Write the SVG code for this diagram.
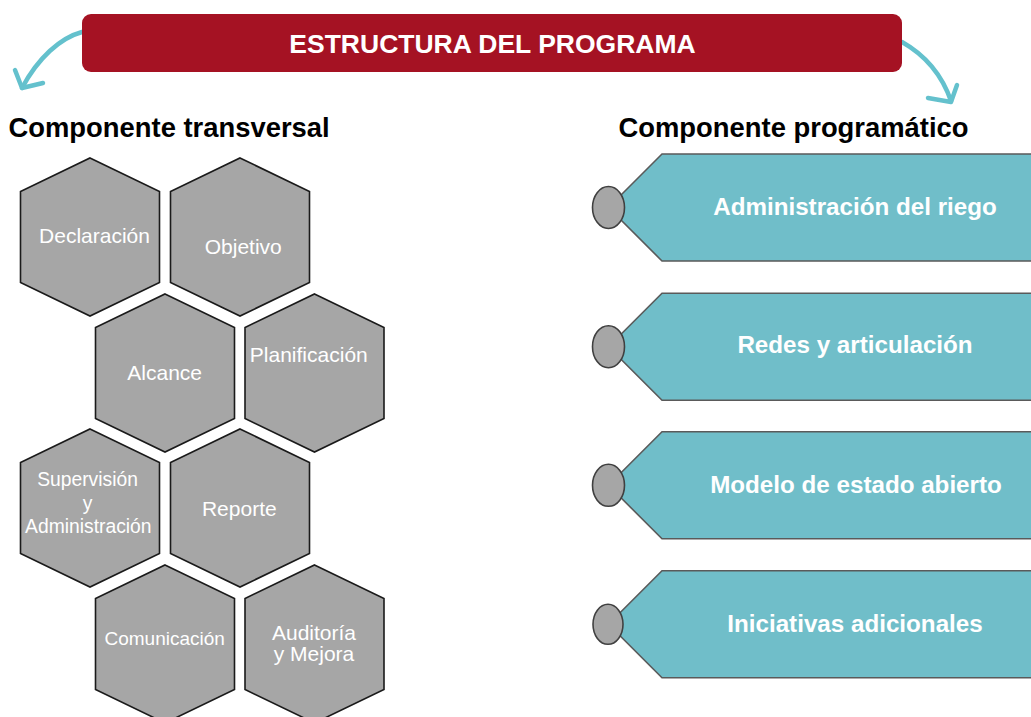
<svg xmlns="http://www.w3.org/2000/svg" width="1031" height="717" viewBox="0 0 1031 717">
<style>
.hex{fill:#a6a6a6;stroke:#1a1a1a;stroke-width:1.6}
.ht{font-family:"Liberation Sans",Arial,sans-serif;fill:#ffffff;font-size:21px;text-anchor:middle}
.hs{font-size:19.3px}
.hc{font-size:19px}
.tag{fill:#70bec9;stroke:#5a5a5a;stroke-width:1.6}
.dot{fill:#a6a6a6;stroke:#404040;stroke-width:1.6}
.tt{font-family:"Liberation Sans",Arial,sans-serif;font-weight:bold;fill:#ffffff;font-size:24.2px;text-anchor:middle}
.hd{font-family:"Liberation Sans",Arial,sans-serif;font-weight:bold;fill:#000000;font-size:27.4px}
.arr{fill:none;stroke:#64c1cd;stroke-width:4.5;stroke-linecap:round;stroke-linejoin:round}
</style>
<rect width="1031" height="717" fill="#ffffff"/>
<g id="connectors">
<path class="arr" d="M82,32 C60,38 38,58 22,88"/>
<path class="arr" d="M15,70 L22,88 L43,83"/>
<path class="arr" d="M902,42 C925,55 942,75 951,101"/>
<path class="arr" d="M928,98 L951,102 L957,85"/>
</g>
<g id="title">
<rect x="82" y="14" width="820" height="58" rx="9" fill="#a51223"/>
<text x="492.5" y="52.7" font-family="Liberation Sans, Arial, sans-serif" font-weight="bold" font-size="26.5" fill="#ffffff" text-anchor="middle">ESTRUCTURA DEL PROGRAMA</text>
</g>
<g id="header-left"><text class="hd" x="8.5" y="137">Componente transversal</text></g>
<g id="header-right"><text class="hd" x="618.5" y="137">Componente programático</text></g>
<g id="hex-declaracion">
<polygon class="hex" points="90,158 159.5,191.5 159.5,282.5 90,316 20.5,282.5 20.5,191.5"/>
<text class="ht" x="94.5" y="243">Declaración</text>
</g>
<g id="hex-objetivo">
<polygon class="hex" points="240,158 309.5,191.5 309.5,282.5 240,316 170.5,282.5 170.5,191.5"/>
<text class="ht" x="243.3" y="253.5">Objetivo</text>
</g>
<g id="hex-alcance">
<polygon class="hex" points="165,294 234.5,327.5 234.5,418.5 165,452 95.5,418.5 95.5,327.5"/>
<text class="ht" x="164.7" y="380">Alcance</text>
</g>
<g id="hex-planificacion">
<polygon class="hex" points="314.5,294 384,327.5 384,418.5 314.5,452 245,418.5 245,327.5"/>
<text class="ht" x="308.8" y="361.7">Planificación</text>
</g>
<g id="hex-supervision">
<polygon class="hex" points="90,429 159.5,462.5 159.5,553.5 90,587 20.5,553.5 20.5,462.5"/>
<text class="ht hs" x="87.5" y="486">Supervisión</text>
<text class="ht hs" x="87.5" y="509.5">y</text>
<text class="ht hs" x="88.3" y="533">Administración</text>
</g>
<g id="hex-reporte">
<polygon class="hex" points="240,429 309.5,462.5 309.5,553.5 240,587 170.5,553.5 170.5,462.5"/>
<text class="ht" x="239.3" y="515.7">Reporte</text>
</g>
<g id="hex-comunicacion">
<polygon class="hex" points="165,565 234.5,598.5 234.5,689.5 165,723 95.5,689.5 95.5,598.5"/>
<text class="ht hc" x="164.7" y="645">Comunicación</text>
</g>
<g id="hex-auditoria">
<polygon class="hex" points="314.5,565 384,598.5 384,689.5 314.5,723 245,689.5 245,598.5"/>
<text class="ht" x="314" y="640">Auditoría</text>
<text class="ht" x="314" y="660.7">y Mejora</text>
</g>
<g id="tag-riego">
<polygon class="tag" points="608.5,207.5 662,154 1040,154 1040,261 662,261"/>
<ellipse class="dot" cx="608.5" cy="207.5" rx="16" ry="21"/>
<text class="tt" x="855" y="215">Administración del riego</text>
</g>
<g id="tag-redes">
<polygon class="tag" points="608.5,346.7 662,293.2 1040,293.2 1040,400.2 662,400.2"/>
<ellipse class="dot" cx="608.5" cy="346.7" rx="16" ry="21"/>
<text class="tt" x="855" y="353.3">Redes y articulación</text>
</g>
<g id="tag-modelo">
<polygon class="tag" points="608.5,485.3 662,431.8 1040,431.8 1040,538.8 662,538.8"/>
<ellipse class="dot" cx="608.5" cy="485.3" rx="16" ry="21"/>
<text class="tt" x="856" y="492.7">Modelo de estado abierto</text>
</g>
<g id="tag-iniciativas">
<polygon class="tag" points="608.5,624.3 662,570.8 1040,570.8 1040,677.8 662,677.8"/>
<ellipse class="dot" cx="608" cy="624.3" rx="15" ry="20"/>
<text class="tt" x="855" y="631.7">Iniciativas adicionales</text>
</g>
</svg>
